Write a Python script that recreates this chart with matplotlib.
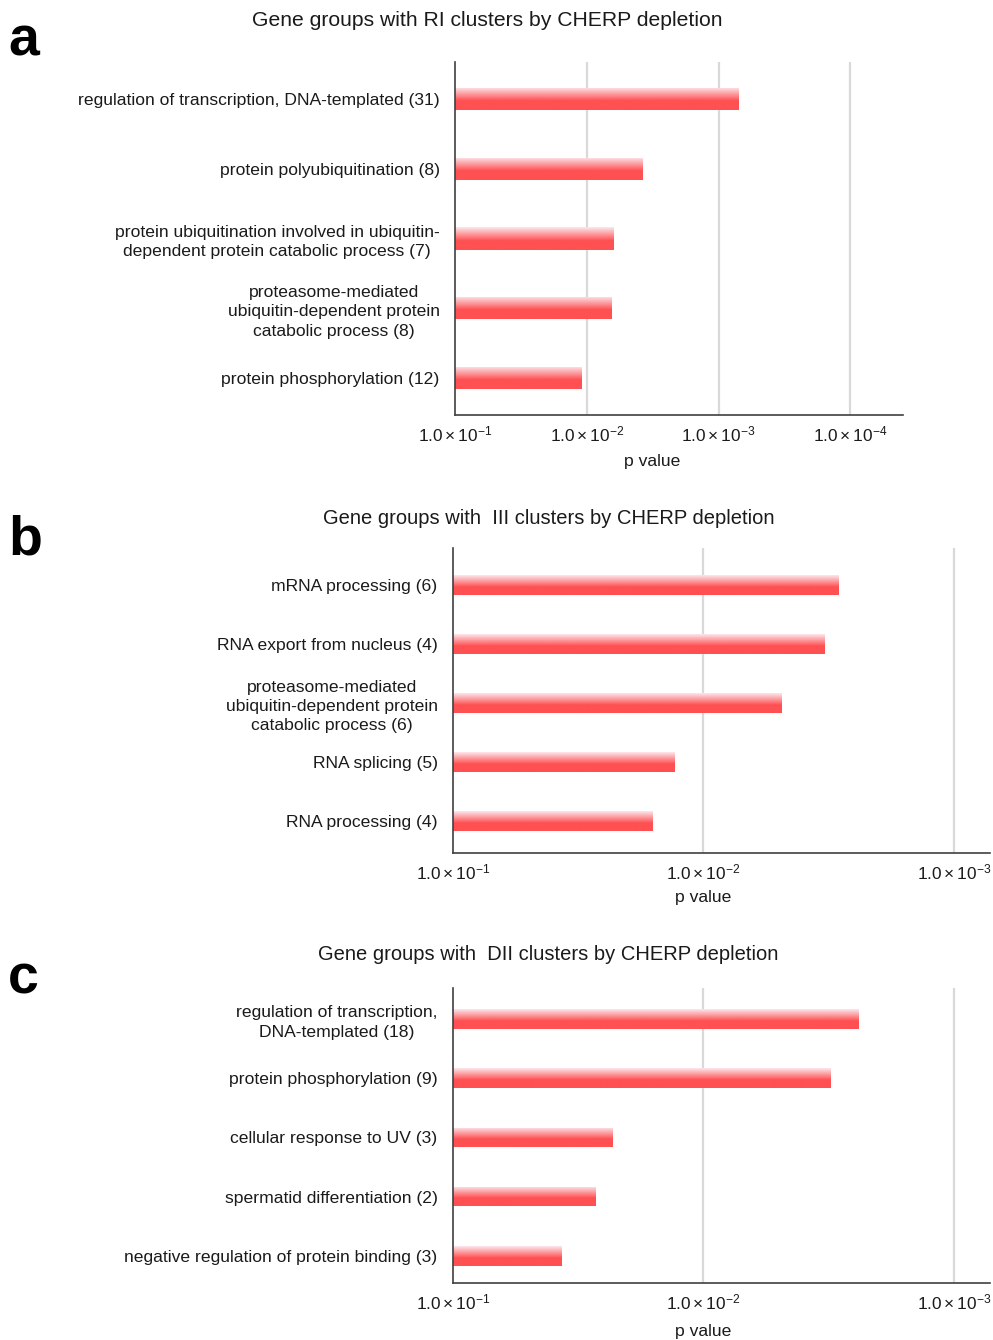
import numpy as np
import matplotlib
matplotlib.use("Agg")
import matplotlib.pyplot as plt

plt.rcParams['font.family'] = ['Liberation Sans', 'DejaVu Sans']
plt.rcParams['mathtext.fontset'] = 'custom'
plt.rcParams['mathtext.rm'] = 'Liberation Sans'
plt.rcParams['mathtext.it'] = 'Liberation Sans:italic'
plt.rcParams['mathtext.bf'] = 'Liberation Sans:bold'

# ---- data (p values) ----
title_a = "Gene groups with RI clusters by CHERP depletion"
terms_a = ["regulation of transcription, DNA-templated (31)",
           "protein polyubiquitination (8)",
           "protein ubiquitination involved in ubiquitin-\ndependent protein catabolic process (7)",
           "proteasome-mediated\nubiquitin-dependent protein\ncatabolic process (8)",
           "protein phosphorylation (12)"]
pvals_a = [7.1e-4, 3.8e-3, 6.3e-3, 6.5e-3, 1.1e-2]
ticks_a = [1, 2, 3, 4]

title_b = "Gene groups with  III clusters by CHERP depletion"
terms_b = ["mRNA processing (6)",
           "RNA export from nucleus (4)",
           "proteasome-mediated\nubiquitin-dependent protein\ncatabolic process (6)",
           "RNA splicing (5)",
           "RNA processing (4)"]
pvals_b = [2.9e-3, 3.3e-3, 4.9e-3, 1.3e-2, 1.6e-2]
ticks_b = [1, 2, 3]

title_c = "Gene groups with  DII clusters by CHERP depletion"
terms_c = ["regulation of transcription,\nDNA-templated (18)",
           "protein phosphorylation (9)",
           "cellular response to UV (3)",
           "spermatid differentiation (2)",
           "negative regulation of protein binding (3)"]
pvals_c = [2.4e-3, 3.1e-3, 2.3e-2, 2.7e-2, 3.7e-2]
ticks_c = [1, 2, 3]

# vertical gradient used inside every bar: pale pink on top -> red
t = np.linspace(0, 1, 64)
top = np.array([252, 230, 235]) / 255.
red = np.array([255, 80, 82]) / 255.
k = np.clip(t / 0.6, 0, 1)[:, None]
grad = (top * (1 - k) + red * k)[:, None, :]

W, H = 993, 1340
fig = plt.figure(figsize=(W / 100, H / 100), dpi=100)
TXT = '#1a1a1a'


def panel(rect, terms, pvals, ticks, xmax, ylim, bar_h, label_off):
    ax = fig.add_axes(rect)
    vals = -np.log10(pvals)
    y = np.arange(len(terms))
    bars = ax.barh(y, vals - 1, left=1, height=bar_h, color='none', edgecolor='none')
    for b, v, yi in zip(bars, vals, y):
        im = ax.imshow(grad, extent=(1, v, yi + bar_h / 2, yi - bar_h / 2),
                       aspect='auto', interpolation='bilinear', zorder=2)
        im.set_clip_path(b)
    ax.set_xlim(1, xmax)
    ax.set_ylim(*ylim)
    ax.set_yticks(y)
    ax.set_yticklabels(terms, fontsize=12.6, color=TXT, multialignment='center',
                       linespacing=1.35)
    ax.set_xticks(ticks)
    ax.set_xticklabels([r'$\mathregular{1.0\times10^{-%d}}$' % d for d in ticks],
                       fontsize=12.4, color=TXT)
    ax.tick_params(axis='both', length=0)
    ax.tick_params(axis='x', pad=7)
    ax.tick_params(axis='y', pad=11)
    for s in ['top', 'right']:
        ax.spines[s].set_visible(False)
    for s in ['left', 'bottom']:
        ax.spines[s].set_color('#404040')
        ax.spines[s].set_linewidth(1.2)
    for tk in ticks[1:]:
        ax.axvline(tk, color='#d9d9d9', lw=1.6, zorder=0)
    ax.set_xlabel('p value', fontsize=12.6, color=TXT)
    mid = (ticks[0] + ticks[-1]) / 2
    ax.xaxis.set_label_coords((mid - 1) / (xmax - 1), label_off)
    return ax


def fr(x0, y0, x1, y1):
    return [x0 / W, 1 - y1 / H, (x1 - x0) / W, (y1 - y0) / H]


panel(fr(455, 62, 903, 415), terms_a, pvals_a, ticks_a, 4.40, (4.53, -0.53), 0.32, -0.11)
panel(fr(453, 548, 990, 853), terms_b, pvals_b, ticks_b, 3.144, (4.54, -0.63), 0.33, -0.12)
panel(fr(453, 988, 990, 1283), terms_c, pvals_c, ticks_c, 3.144, (4.46, -0.52), 0.33, -0.14)

fig.text(487 / W, 1 - 20 / H, title_a, fontsize=15.2, ha='center', va='center', color=TXT)
fig.text(549 / W, 1 - 519 / H, title_b, fontsize=14.5, ha='center', va='center', color=TXT)
fig.text(548 / W, 1 - 954 / H, title_c, fontsize=14.5, ha='center', va='center', color=TXT)

for letter, (lx, ly) in zip('abc', [(8, 42), (8, 540), (8, 980)]):
    fig.text(lx / W, 1 - ly / H, letter, fontsize=40, fontweight='bold',
             ha='left', va='center', color='black')

fig.savefig('out.png', dpi=100)
